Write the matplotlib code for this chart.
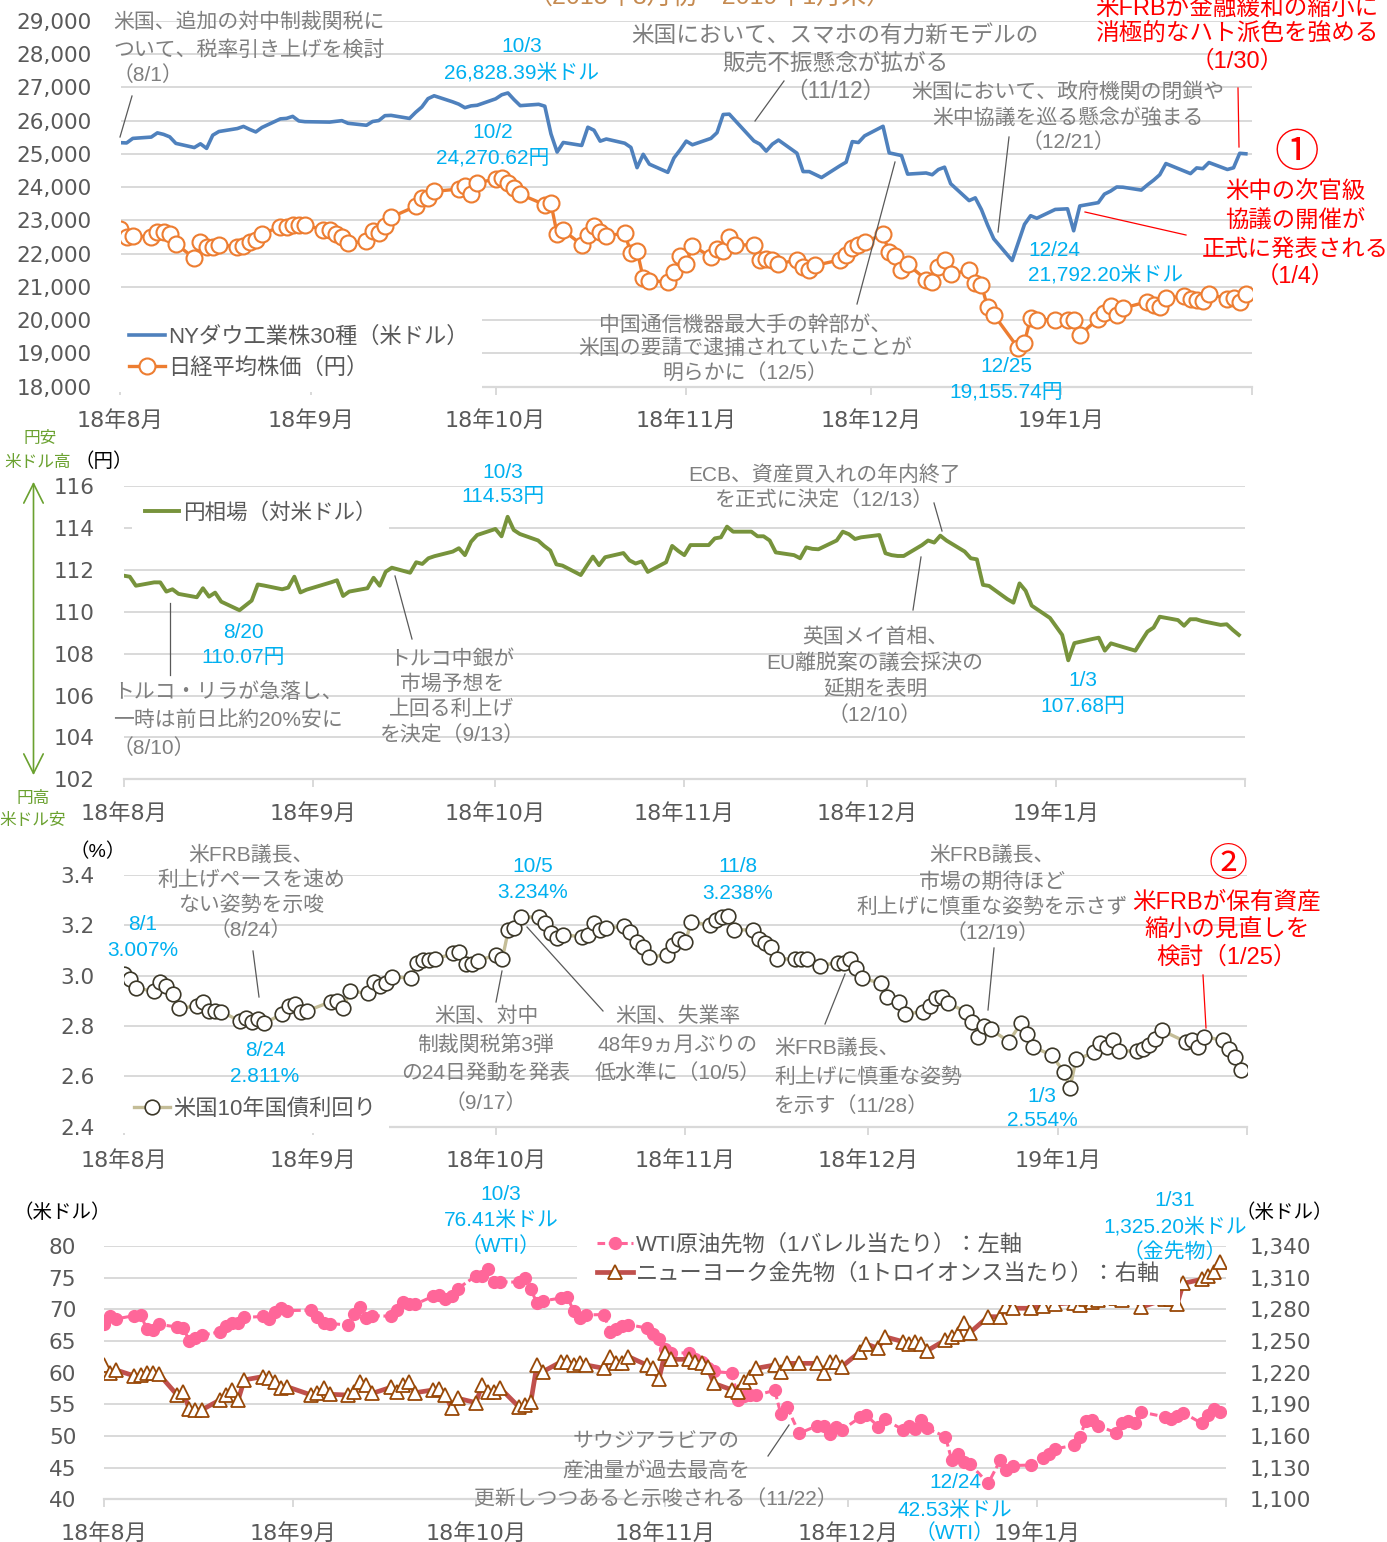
import matplotlib
matplotlib.use('Agg')
import matplotlib.pyplot as plt
from matplotlib.lines import Line2D
from matplotlib.patches import FancyArrowPatch
from matplotlib.ticker import FuncFormatter, MultipleLocator
from datetime import date

W, H = 1387, 1542
TICKFONT = ['DejaVu Sans', 'Noto Sans CJK JP']
FONT = ['Liberation Sans', 'Noto Sans CJK JP']
plt.rcParams['font.family'] = TICKFONT

# ---------------- data ----------------
month_ticks = ['8/1', '9/1', '10/1', '11/1', '12/1', '1/1', '2/1']
month_labels = ['18年8月', '18年9月', '18年10月', '18年11月', '18年12月', '19年1月', '']
gold_ticks = [1100, 1130, 1160, 1190, 1220, 1250, 1280, 1310, 1340]

us_days = (
    ["8/1", "8/2", "8/3", "8/6", "8/7", "8/8", "8/9", "8/10", "8/13", "8/14", "8/15", "8/16", "8/17",
     "8/20", "8/21", "8/22", "8/23", "8/24", "8/27", "8/28", "8/29", "8/30", "8/31"] +
    ["9/4", "9/5", "9/6", "9/7", "9/10", "9/11", "9/12", "9/13", "9/14", "9/17", "9/18", "9/19", "9/20",
     "9/21", "9/24", "9/25", "9/26", "9/27", "9/28"] +
    ["10/1", "10/2", "10/3", "10/4", "10/5", "10/8", "10/9", "10/10", "10/11", "10/12", "10/15", "10/16",
     "10/17", "10/18", "10/19", "10/22", "10/23", "10/24", "10/25", "10/26", "10/29", "10/30", "10/31"] +
    ["11/1", "11/2", "11/5", "11/6", "11/7", "11/8", "11/9", "11/12", "11/13", "11/14", "11/15", "11/16",
     "11/19", "11/20", "11/21", "11/23", "11/26", "11/27", "11/28", "11/29", "11/30"] +
    ["12/3", "12/4", "12/6", "12/7", "12/10", "12/11", "12/12", "12/13", "12/14", "12/17", "12/18", "12/19",
     "12/20", "12/21", "12/24", "12/26", "12/27", "12/28", "12/31"] +
    ["1/2", "1/3", "1/4", "1/7", "1/8", "1/9", "1/10", "1/11", "1/14", "1/15", "1/16", "1/17", "1/18",
     "1/22", "1/23", "1/24", "1/25", "1/28", "1/29", "1/30", "1/31"]
)

dow = (
    [25333.82, 25326.16, 25462.58, 25502.18, 25628.91, 25583.75, 25509.23, 25313.14, 25187.70, 25299.92,
     25162.41, 25558.73, 25669.32, 25758.69, 25822.29, 25733.60, 25656.98, 25790.35, 26049.64, 26064.02,
     26124.57, 25986.92, 25964.82] +
    [25952.48, 25974.99, 25995.87, 25916.54, 25857.07, 25971.06, 25998.92, 26145.99, 26154.67, 26062.12,
     26246.96, 26405.76, 26656.98, 26743.50, 26562.05, 26492.21, 26385.28, 26439.93, 26458.31] +
    [26651.21, 26773.94, 26828.39, 26627.48, 26447.05, 26486.78, 26430.57, 25598.74, 25052.83, 25339.99,
     25250.55, 25798.42, 25706.68, 25379.45, 25444.34, 25317.41, 25191.43, 24583.42, 24984.55, 24688.31,
     24442.92, 24874.64, 25115.76] +
    [25380.74, 25270.83, 25461.70, 25635.01, 26180.30, 26191.22, 25989.30, 25387.18, 25286.49, 25080.50,
     25289.27, 25413.22, 25017.44, 24465.64, 24464.69, 24285.95, 24640.24, 24748.73, 25366.43, 25338.84,
     25538.46] +
    [25826.43, 25027.07, 24947.67, 24388.95, 24423.26, 24370.24, 24527.27, 24597.38, 24100.51, 23592.98,
     23675.64, 23323.66, 22859.60, 22445.37, 21792.20, 22878.45, 23138.82, 23062.40, 23327.46] +
    [23346.24, 22686.22, 23433.16, 23531.35, 23787.45, 23879.12, 24001.92, 23995.95, 23909.84, 24065.59,
     24207.16, 24370.10, 24706.35, 24404.48, 24575.62, 24553.24, 24737.20, 24528.22, 24579.96, 25014.86,
     24999.67]
)

jp_days = (
    ["8/1", "8/2", "8/3", "8/6", "8/7", "8/8", "8/9", "8/10", "8/13", "8/14", "8/15", "8/16", "8/17",
     "8/20", "8/21", "8/22", "8/23", "8/24", "8/27", "8/28", "8/29", "8/30", "8/31"] +
    ["9/3", "9/4", "9/5", "9/6", "9/7", "9/10", "9/11", "9/12", "9/13", "9/14", "9/18", "9/19", "9/20",
     "9/21", "9/25", "9/26", "9/27", "9/28"] +
    ["10/1", "10/2", "10/3", "10/4", "10/5", "10/9", "10/10", "10/11", "10/12", "10/15", "10/16", "10/17",
     "10/18", "10/19", "10/22", "10/23", "10/24", "10/25", "10/26", "10/29", "10/30", "10/31"] +
    ["11/1", "11/2", "11/5", "11/6", "11/7", "11/8", "11/9", "11/12", "11/13", "11/14", "11/15", "11/16",
     "11/19", "11/20", "11/21", "11/22", "11/26", "11/27", "11/28", "11/29", "11/30"] +
    ["12/3", "12/4", "12/5", "12/6", "12/7", "12/10", "12/11", "12/12", "12/13", "12/14", "12/17", "12/18",
     "12/19", "12/20", "12/21", "12/25", "12/26", "12/27", "12/28", "12/31"] +
    ["1/2", "1/3", "1/4", "1/7", "1/8", "1/9", "1/10", "1/11", "1/15", "1/16", "1/17", "1/18", "1/21",
     "1/22", "1/23", "1/24", "1/25", "1/28", "1/29", "1/30", "1/31"]
)

nikkei = (
    [22746.70, 22512.53, 22525.18, 22507.32, 22662.74, 22644.31, 22598.39, 22298.08, 21857.43, 22356.08,
     22204.22, 22192.04, 22270.38, 22199.00, 22219.73, 22362.55, 22410.82, 22601.77, 22799.64, 22813.47,
     22848.22, 22869.50, 22865.15] +
    [22707.38, 22696.90, 22580.83, 22487.94, 22307.06, 22373.09, 22664.69, 22604.61, 22821.32, 23094.67,
     23420.54, 23672.52, 23674.93, 23869.93, 23940.26, 24033.79, 23796.74, 24120.04] +
    [24245.76, 24270.62, 24110.96, 23975.62, 23783.72, 23469.39, 23506.04, 22590.86, 22694.66, 22271.30,
     22549.24, 22841.12, 22658.16, 22532.08, 22614.82, 22010.78, 22091.18, 21268.73, 21184.60, 21149.80,
     21457.29, 21920.46] +
    [21687.65, 22243.66, 21898.99, 22147.75, 22085.80, 22486.92, 22250.25, 22269.88, 21810.52, 21846.48,
     21803.62, 21680.34, 21821.16, 21583.12, 21507.54, 21646.55, 21812.00, 21952.40, 22177.02, 22262.60,
     22351.06] +
    [22574.76, 22036.05, 21919.33, 21501.62, 21678.68, 21219.50, 21148.02, 21602.75, 21816.19, 21374.83,
     21506.88, 21115.45, 21060.47, 20392.58, 20166.19, 19155.74, 19327.06, 20077.62, 20014.77, 20014.77] +
    [20014.77, 20014.77, 19561.96, 20038.97, 20204.04, 20427.06, 20163.80, 20359.70, 20555.29, 20442.75,
     20402.27, 20666.07, 20719.33, 20622.91, 20593.72, 20574.63, 20773.56, 20649.00, 20664.64, 20556.54,
     20773.49]
)

fx_days = (
    ["8/1", "8/2", "8/3", "8/6", "8/7", "8/8", "8/9", "8/10", "8/13", "8/14", "8/15", "8/16", "8/17",
     "8/20", "8/21", "8/22", "8/23", "8/24", "8/27", "8/28", "8/29", "8/30", "8/31"] +
    ["9/4", "9/5", "9/6", "9/7", "9/10", "9/11", "9/12", "9/13", "9/14", "9/17", "9/18", "9/19", "9/20",
     "9/21", "9/24", "9/25", "9/26", "9/27", "9/28"] +
    ["10/1", "10/2", "10/3", "10/4", "10/5", "10/8", "10/9", "10/10", "10/11", "10/12", "10/15", "10/16",
     "10/17", "10/18", "10/19", "10/22", "10/23", "10/24", "10/25", "10/26", "10/29", "10/30", "10/31"] +
    ["11/1", "11/2", "11/5", "11/6", "11/7", "11/8", "11/9", "11/12", "11/13", "11/14", "11/15", "11/16",
     "11/19", "11/20", "11/21", "11/22", "11/23", "11/26", "11/27", "11/28", "11/29", "11/30"] +
    ["12/3", "12/4", "12/5", "12/6", "12/7", "12/10", "12/11", "12/12", "12/13", "12/14", "12/17", "12/18",
     "12/19", "12/20", "12/21", "12/24", "12/25", "12/26", "12/27", "12/28", "12/31"] +
    ["1/2", "1/3", "1/4", "1/7", "1/8", "1/9", "1/10", "1/11", "1/14", "1/15", "1/16", "1/17", "1/18",
     "1/21", "1/22", "1/23", "1/24", "1/25", "1/28", "1/29", "1/30", "1/31"]
)

usdjpy = (
    [111.72, 111.67, 111.24, 111.40, 111.40, 110.96, 111.07, 110.85, 110.69, 111.12, 110.72, 110.91, 110.48,
     110.07, 110.30, 110.53, 111.30, 111.25, 111.07, 111.15, 111.67, 110.92, 111.05] +
    [111.40, 111.50, 110.75, 110.96, 111.12, 111.62, 111.24, 111.91, 112.10, 111.86, 112.36, 112.28, 112.55,
     112.65, 112.87, 113.03, 112.70, 113.34, 113.66] +
    [113.95, 113.60, 114.53, 113.90, 113.71, 113.40, 113.14, 112.92, 112.26, 112.20, 111.75, 112.20, 112.63,
     112.22, 112.60, 112.80, 112.45, 112.30, 112.40, 111.90, 112.36, 113.14, 112.90] +
    [112.70, 113.18, 113.18, 113.50, 113.55, 114.06, 113.82, 113.82, 113.60, 113.60, 113.40, 112.83, 112.70,
     112.55, 113.07, 113.00, 112.98, 113.40, 113.82, 113.70, 113.47, 113.55] +
    [113.66, 112.79, 112.70, 112.66, 112.66, 113.18, 113.40, 113.30, 113.63, 113.40, 112.87, 112.55, 112.50,
     111.28, 111.23, 110.60, 110.43, 111.35, 111.00, 110.29, 109.70] +
    [108.89, 107.68, 108.50, 108.70, 108.76, 108.14, 108.49, 108.40, 108.14, 108.60, 109.05, 109.24, 109.76,
     109.60, 109.33, 109.64, 109.64, 109.55, 109.37, 109.40, 109.13, 108.89]
)

ust10y = (
    [3.007, 2.987, 2.950, 2.939, 2.974, 2.960, 2.926, 2.870, 2.880, 2.894, 2.861, 2.861, 2.857, 2.820, 2.833,
     2.817, 2.828, 2.811, 2.848, 2.881, 2.886, 2.854, 2.860] +
    [2.897, 2.900, 2.870, 2.939, 2.930, 2.976, 2.960, 2.970, 2.996, 2.990, 3.052, 3.062, 3.062, 3.065, 3.089,
     3.095, 3.046, 3.045, 3.060] +
    [3.082, 3.065, 3.180, 3.188, 3.234, 3.232, 3.208, 3.168, 3.148, 3.162, 3.155, 3.162, 3.208, 3.180, 3.190,
     3.196, 3.172, 3.135, 3.115, 3.075, 3.082, 3.122, 3.145] +
    [3.135, 3.215, 3.200, 3.220, 3.232, 3.238, 3.182, 3.182, 3.145, 3.130, 3.115, 3.068, 3.065, 3.065, 3.065,
     3.040, 3.052, 3.052, 3.065, 3.030, 2.990] +
    [2.970, 2.917, 2.894, 2.848, 2.857, 2.881, 2.910, 2.917, 2.890, 2.857, 2.817, 2.757, 2.800, 2.787, 2.738,
     2.813, 2.770, 2.717, 2.684] +
    [2.618, 2.554, 2.667, 2.695, 2.731, 2.717, 2.744, 2.701, 2.701, 2.710, 2.724, 2.750, 2.783, 2.737, 2.744,
     2.715, 2.757, 2.744, 2.710, 2.675, 2.627]
)

wti = (
    [67.66, 68.96, 68.49, 69.01, 69.17, 66.94, 66.81, 67.63, 67.20, 67.04, 65.01, 65.46, 65.91, 66.43, 67.35,
     67.86, 67.83, 68.72, 68.87, 68.53, 69.51, 70.25, 69.80] +
    [69.87, 68.72, 67.77, 67.75, 67.54, 69.25, 70.37, 68.59, 68.99, 68.91, 69.85, 71.12, 70.80, 70.78, 72.08,
     72.28, 71.57, 72.12, 73.25] +
    [75.30, 75.23, 76.41, 74.33, 74.34, 74.29, 74.96, 73.17, 70.97, 71.34, 71.78, 71.92, 69.75, 68.65, 69.12,
     69.17, 66.43, 66.82, 67.33, 67.59, 67.04, 66.18, 65.31] +
    [63.69, 63.14, 63.10, 62.21, 61.67, 60.67, 60.19, 59.93, 55.69, 56.25, 56.46, 56.46, 57.20, 53.43, 54.63,
     50.42, 51.63, 51.56, 50.29, 51.45, 50.93] +
    [52.95, 53.25, 51.49, 52.61, 51.00, 51.65, 51.15, 52.58, 51.20, 49.88, 46.24, 47.20, 45.88, 45.59, 42.53,
     46.22, 44.61, 45.33, 45.41] +
    [46.54, 47.09, 47.96, 48.52, 49.78, 52.36, 52.59, 51.59, 50.51, 52.11, 52.31, 52.07, 53.80, 53.01, 52.62,
     53.13, 53.69, 51.99, 53.31, 54.23, 53.79]
)

gold = (
    [1227.3, 1219.4, 1222.5, 1216.8, 1217.8, 1219.4, 1220.0, 1218.7, 1198.8, 1201.4, 1185.3, 1184.6, 1184.6,
     1194.1, 1198.8, 1203.6, 1194.1, 1213.1, 1216.2, 1214.6, 1211.5, 1205.2, 1206.7] +
    [1198.8, 1201.0, 1205.2, 1199.5, 1198.8, 1202.0, 1211.5, 1208.3, 1200.4, 1206.0, 1202.0, 1208.3, 1211.5,
     1201.0, 1203.6, 1204.2, 1198.8, 1186.2, 1195.7] +
    [1191.6, 1208.3, 1202.0, 1202.0, 1205.2, 1187.8, 1189.4, 1192.5, 1227.3, 1221.0, 1230.4, 1230.4, 1227.3,
     1229.5, 1227.3, 1224.1, 1235.2, 1229.5, 1229.5, 1235.2, 1227.3, 1224.1, 1213.7] +
    [1238.3, 1232.6, 1232.6, 1230.0, 1229.0, 1225.0, 1209.9, 1203.6, 1202.0, 1211.5, 1216.2, 1224.1, 1227.3,
     1221.0, 1228.8, 1228.8, 1228.8, 1220.0, 1230.4, 1230.4, 1225.7] +
    [1239.9, 1247.2, 1243.0, 1254.1, 1249.4, 1247.2, 1249.4, 1247.2, 1240.8, 1251.0, 1254.1, 1256.6, 1267.4,
     1257.9, 1273.0, 1273.0, 1283.2, 1281.0, 1281.0] +
    [1283.2, 1293.6, 1285.0, 1286.3, 1284.1, 1289.8, 1287.3, 1288.8, 1290.4, 1288.8, 1292.0, 1291.4, 1281.9,
     1289.5, 1289.5, 1285.0, 1304.6, 1308.4, 1312.0, 1315.7, 1325.2]
)

legend1 = ['NYダウ工業株30種（米ドル）', '日経平均株価（円）']
legend2 = '円相場（対米ドル）'
legend3 = '米国10年国債利回り'
legend4 = ['WTI原油先物（1バレル当たり）：左軸', 'ニューヨーク金先物（1トロイオンス当たり）：右軸']

# ---------------- styles ----------------
BLUE = '#4f81bd'
ORANGE = '#ed7d31'
GREEN = '#77933c'
GREEN_T = '#6aa12f'
TAN = '#c4bd97'
DARK = '#3b3728'
PINK = '#ff6699'
GOLDL = '#c0504d'
GOLDM = '#984807'
CYAN = '#00b0f0'
RED = '#ff0000'
GRAY = '#7f7f7f'
TICKC = '#595959'
GRID = '#d9d9d9'


def to_date(s):
    m, d = map(int, s.split('/'))
    return date(2018 if m >= 8 else 2019, m, d)


us_d = [to_date(s) for s in us_days]
jp_d = [to_date(s) for s in jp_days]
fx_d = [to_date(s) for s in fx_days]

fig = plt.figure(figsize=(W / 100, H / 100), dpi=100)


def add_ax(x0, x1, y0, y1):
    return fig.add_axes([x0 / W, 1 - y1 / H, (x1 - x0) / W, (y1 - y0) / H])


def style(ax, ylim, step, fmt, ypad=21):
    ax.set_xlim(to_date('8/1'), to_date('2/1'))
    ax.set_ylim(*ylim)
    ax.yaxis.set_major_locator(MultipleLocator(step))
    ax.yaxis.set_major_formatter(FuncFormatter(fmt))
    ax.grid(axis='y', color=GRID, lw=1.4)
    ax.set_axisbelow(True)
    for s in ['top', 'right', 'left']:
        ax.spines[s].set_visible(False)
    ax.spines['bottom'].set_color(GRID)
    ax.spines['bottom'].set_linewidth(1.6)
    ax.set_xticks([to_date(s) for s in month_ticks])
    ax.set_xticklabels(month_labels)
    ax.tick_params(axis='x', length=6, width=1.4, color=GRID, pad=11, labelsize=16, labelcolor=TICKC)
    ax.tick_params(axis='y', length=0, pad=ypad, labelsize=15.5, labelcolor=TICKC)


def txt(x, ys, lines, color=GRAY, size=15, ha='center'):
    for y, s in zip(ys, lines):
        fig.text(x / W, 1 - y / H, s, color=color, fontsize=size, ha=ha, va='center', family=FONT)


def seg(x1, y1, x2, y2, color='#595959', lw=0.9):
    fig.add_artist(Line2D([x1 / W, x2 / W], [1 - y1 / H, 1 - y2 / H],
                          transform=fig.transFigure, color=color, lw=lw))


def legend(ax, handles, labels, x, y, pad=0.6, spacing=0.25, size=16):
    bp = pad * size * 100 / 72
    lg = ax.legend(handles, labels, loc='center left',
                   bbox_to_anchor=((x - bp) / W, 1 - y / H), bbox_transform=fig.transFigure,
                   frameon=True, facecolor='white', edgecolor='none', framealpha=1, fancybox=False,
                   borderpad=pad, borderaxespad=0, handlelength=1.6, handletextpad=0.15,
                   labelspacing=spacing, prop={'family': FONT, 'size': size}, numpoints=1)
    for t in lg.get_texts():
        t.set_color(TICKC)
    lg.set_zorder(5)
    return lg


comma = lambda v, p: f'{int(round(v)):,}'

# ---------------- panel 1 ----------------
ax1 = add_ax(120.5, 1252, 20.7, 386.7)
style(ax1, (18000, 29000), 1000, comma)
h1, = ax1.plot(us_d, dow, color=BLUE, lw=2.6)
h2, = ax1.plot(jp_d, nikkei, color=ORANGE, lw=2.4, marker='o', ms=11.5, mfc='white', mec=ORANGE, mew=1.5)
legend(ax1, [h1, h2], legend1, 129, 353, spacing=0.43)

fig.text(710 / W, 1 + 3 / H, '（2018年8月初～2019年1月末）', color='#c58a50', fontsize=18, ha='center',
         va='center', family=FONT)
txt(113, [22, 50, 75], ['米国、追加の対中制裁関税に', 'ついて、税率引き上げを検討', '（8/1）'], ha='left')
seg(120, 137, 132, 96)
txt(522, [47, 73], ['10/3', '26,828.39米ドル'], CYAN)
txt(493, [133, 158], ['10/2', '24,270.62円'], CYAN)
txt(835, [35, 63, 91], ['米国において、スマホの有力新モデルの', '販売不振懸念が拡がる', '（11/12）'], size=16.3)
seg(755, 121, 784, 81)
txt(1068, [92, 118, 142], ['米国において、政府機関の閉鎖や', '米中協議を巡る懸念が強まる', '（12/21）'])
seg(1009, 137, 998, 232)
txt(1237, [9, 35, 62], ['米FRBが金融緩和の縮小に', '消極的なハト派色を強める', '（1/30）'], RED, 17)
seg(1238, 88, 1239, 147, RED)
txt(1297, [154], ['①'], RED, 32)
txt(1295, [192, 220, 249, 277], ['米中の次官級', '協議の開催が', '正式に発表される', '（1/4）'], RED, 16.8)
seg(1085, 212, 1186, 235, RED)
txt(1028, [250, 275], ['12/24', '21,792.20米ドル'], CYAN, ha='left')
txt(1006, [367, 392], ['12/25', '19,155.74円'], CYAN)
txt(745, [325, 348, 374], ['中国通信機器最大手の幹部が、', '米国の要請で逮捕されていたことが', '明らかに（12/5）'])
seg(895, 162, 857, 304)

# ---------------- panel 2 ----------------
ax2 = add_ax(123.7, 1245, 486, 779.3)
style(ax2, (102, 116), 2, lambda v, p: f'{int(round(v))}')
h3, = ax2.plot(fx_d, usdjpy, color=GREEN, lw=2.8)
legend(ax2, [h3], [legend2], 145, 513, size=15.5)

txt(40, [439], ['円安'], GREEN_T, 12)
txt(38, [462], ['米ドル高'], GREEN_T, 12)
txt(104, [462], ['（円）'], 'black', 14)
txt(33, [798], ['円高'], GREEN_T, 12)
txt(33, [820], ['米ドル安'], GREEN_T, 12)
fig.add_artist(FancyArrowPatch((33.5 / W, 1 - 479 / H), (33.5 / W, 1 - 778 / H), transform=fig.transFigure,
                               arrowstyle='<->,head_length=0.7,head_width=0.35', mutation_scale=20,
                               color=GREEN_T, lw=1.2))
txt(503, [472, 497], ['10/3', '114.53円'], CYAN)
txt(825, [475, 500], ['ECB、資産買入れの年内終了', 'を正式に決定（12/13）'])
seg(934, 503, 942, 531)
txt(243, [632, 657], ['8/20', '110.07円'], CYAN)
txt(113, [692, 720, 748], ['トルコ・リラが急落し、', '一時は前日比約20%安に', '（8/10）'], ha='left')
seg(170, 603, 170, 675)
txt(452, [659, 684, 709, 735], ['トルコ中銀が', '市場予想を', '上回る利上げ', 'を決定（9/13）'])
seg(395, 576, 412, 639)
txt(875, [637, 663, 689, 715], ['英国メイ首相、', 'EU離脱案の議会採決の', '延期を表明', '（12/10）'])
seg(921, 557, 913, 610)
txt(1083, [681, 707], ['1/3', '107.68円'], CYAN)

# ---------------- panel 3 ----------------
ax3 = add_ax(123.7, 1247, 875, 1126.7)
style(ax3, (2.4, 3.4), 0.2, lambda v, p: f'{v:.1f}')
h4, = ax3.plot(us_d, ust10y, color=TAN, lw=2.4, marker='o', ms=10.5, mfc='white', mec=DARK, mew=1.2)
legend(ax3, [h4], [legend3], 134, 1109)

txt(98, [852], ['（%）'], 'black', 14)
txt(143, [924, 950], ['8/1', '3.007%'], CYAN)
txt(251, [855, 880, 905, 930], ['米FRB議長、', '利上げペースを速め', 'ない姿勢を示唆', '（8/24）'])
seg(253, 951, 259, 997)
txt(265, [1051, 1077], ['8/24', '2.811%'], CYAN)
txt(533, [866, 892], ['10/5', '3.234%'], CYAN)
txt(486, [1016, 1045, 1073, 1103], ['米国、対中', '制裁関税第3弾', 'の24日発動を発表', '（9/17）'])
seg(502, 971, 496, 1002)
txt(678, [1016, 1045, 1073], ['米国、失業率', '48年9ヵ月ぶりの', '低水準に（10/5）'])
seg(527, 927, 603, 1011)
txt(738, [867, 893], ['11/8', '3.238%'], CYAN)
txt(774, [1048, 1077, 1106], ['米FRB議長、', '利上げに慎重な姿勢', 'を示す（11/28）'], ha='left')
seg(845, 974, 825, 1024)
txt(992, [855, 882, 907, 933], ['米FRB議長、', '市場の期待ほど', '利上げに慎重な姿勢を示さず', '（12/19）'])
seg(994, 948, 988, 1010)
txt(1042, [1096, 1121], ['1/3', '2.554%'], CYAN)
txt(1228, [866], ['②'], RED, 28)
txt(1227, [902, 930, 958], ['米FRBが保有資産', '縮小の見直しを', '検討（1/25）'], RED, 17)
seg(1203, 975, 1206, 1028, RED)

# ---------------- panel 4 ----------------
ax4 = add_ax(104, 1226, 1246, 1499.3)
style(ax4, (40, 80), 5, lambda v, p: f'{int(round(v))}', ypad=20)
ax4r = ax4.twinx()
ax4r.set_ylim(gold_ticks[0], gold_ticks[-1])
ax4r.set_yticks(gold_ticks)
ax4r.yaxis.set_major_formatter(FuncFormatter(comma))
ax4r.tick_params(axis='y', length=0, pad=17, labelsize=15.5, labelcolor=TICKC)
for s in ['top', 'right', 'left', 'bottom']:
    ax4r.spines[s].set_visible(False)
h5, = ax4.plot(us_d, wti, color=PINK, lw=2.2, ls=(0, (2.5, 1.2)), marker='o', ms=8.5, mfc=PINK, mec=PINK)
h6, = ax4r.plot(us_d, gold, color=GOLDL, lw=3.4, marker='^', ms=9.5, mfc='white', mec=GOLDM, mew=1.3)
legend(ax4r, [h5, h6], legend4, 597, 1259.5, pad=0.9, spacing=0.34)

txt(62, [1213], ['（米ドル）'], 'black', 14)
txt(1284, [1213], ['（米ドル）'], 'black', 14)
txt(501, [1194, 1220, 1246], ['10/3', '76.41米ドル', '（WTI）'], CYAN)
txt(1175, [1201, 1227, 1252], ['1/31', '1,325.20米ドル', '（金先物）'], CYAN)
txt(656, [1442, 1471, 1499], ['サウジアラビアの', '産油量が過去最高を', '更新しつつあると示唆される（11/22）'])
seg(789, 1425, 768, 1456)
txt(955, [1483, 1510, 1533], ['12/24', '42.53米ドル', '（WTI）'], CYAN)

fig.savefig('out.png', dpi=100)
